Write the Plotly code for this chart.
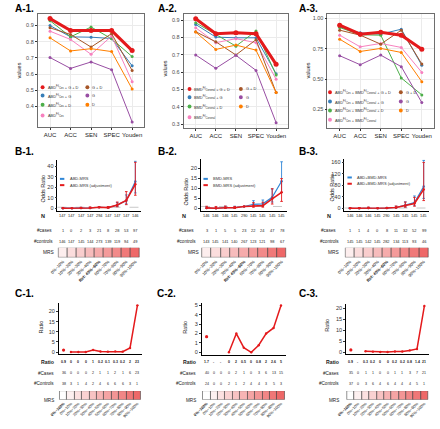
import plotly.graph_objects as go

W, H = 440, 429
FONT = "Liberation Sans"

# ---------------- data ----------------
METRICS = ["AUC", "ACC", "SEN", "SPEC", "Youden"]

A1_ABD_G_D = [0.943, 0.869, 0.869, 0.869, 0.745]
A1_ABD_G = [0.900, 0.830, 0.828, 0.820, 0.651]
A1_ABD_D = [0.930, 0.830, 0.891, 0.818, 0.708]
A1_ABD = [0.865, 0.814, 0.722, 0.835, 0.553]
A1_G_D = [0.886, 0.845, 0.767, 0.850, 0.622]
A1_G = [0.702, 0.635, 0.675, 0.627, 0.304]
A1_D = [0.824, 0.743, 0.757, 0.739, 0.508]

A2_BMD_G_D = [0.908, 0.821, 0.827, 0.821, 0.645]
A2_BMD_G = [0.875, 0.802, 0.798, 0.798, 0.591]
A2_BMD_D = [0.885, 0.818, 0.750, 0.837, 0.584]
A2_BMD = [0.856, 0.770, 0.793, 0.770, 0.559]
A2_G_D = [0.833, 0.775, 0.699, 0.787, 0.482]
A2_G = [0.699, 0.622, 0.697, 0.610, 0.308]
A2_D = [0.831, 0.731, 0.756, 0.727, 0.482]

A3_ABD_BMD_G_D = [0.943, 0.869, 0.885, 0.861, 0.746]
A3_ABD_BMD_G = [0.929, 0.880, 0.869, 0.910, 0.613]
A3_ABD_BMD_D = [0.924, 0.864, 0.861, 0.509, 0.370]
A3_ABD_BMD = [0.861, 0.765, 0.793, 0.760, 0.555]
A3_G_D = [0.902, 0.861, 0.787, 0.902, 0.624]
A3_G = [0.692, 0.618, 0.697, 0.602, 0.307]
A3_D = [0.828, 0.727, 0.752, 0.719, 0.479]

A_COLORS = ["#E41A1C", "#377EB8", "#4DAF4A", "#F781BF", "#A65628", "#984EA3", "#FF7F00"]

ABD = "ABD<sup>Fil</sup><sub>Ces</sub>"
BMD = "BMD<sup>Fil</sup><sub>Coronal</sub>"
A1_NAMES = [ABD + " + G + D", ABD + " + G", ABD + " + D", ABD, "G + D", "G", "D"]
A2_NAMES = [BMD + " + G + D", BMD + " + G", BMD + " + D", BMD, "G + D", "G", "D"]
A3_NAMES = [ABD + " + " + BMD + " + G + D", ABD + " + " + BMD + " + G",
            ABD + " + " + BMD + " + D", ABD + " + " + BMD, "G + D", "G", "D"]

B_GROUPS = ["0%~10%", "10%~20%", "20%~30%", "30%~40%", "Ref: 40%~60%",
            "60%~70%", "70%~80%", "80%~90%", "90%~100%"]
B_LEVELS = [1, 2, 3, 4, 5, 6, 7, 8, 9]

B1_N = [147, 147, 147, 147, 294, 147, 147, 147, 146]
B1_CASES = [1, 0, 2, 3, 21, 8, 28, 53, 97]
B1_CONTROLS = [146, 147, 145, 144, 273, 139, 119, 94, 49]
B1_OR = [0.09, 0, 0.18, 0.27, 1, 0.75, 3.06, 7.33, 25.7]
B1_OR_LO = [0.01, 0, 0.04, 0.08, 1, 0.33, 1.67, 4.2, 14.7]
B1_OR_HI = [0.7, 0, 0.8, 0.92, 1, 1.7, 5.6, 12.8, 45.0]
B1_ADJ = [0.1, 0, 0.2, 0.35, 1, 0.7, 3.1, 7.5, 23.0]
B1_ADJ_LO = [0.01, 0, 0.04, 0.09, 1, 0.3, 1.5, 3.5, 12.5]
B1_ADJ_HI = [0.8, 0, 0.9, 1.3, 1, 1.7, 6.0, 16.0, 44.0]

B2_N = [146, 146, 146, 145, 290, 145, 145, 145, 145]
B2_CASES = [3, 1, 5, 5, 23, 22, 24, 47, 78]
B2_CONTROLS = [143, 145, 141, 140, 267, 123, 121, 98, 67]
B2_OR = [0.24, 0.08, 0.41, 0.41, 1, 2.08, 2.30, 5.57, 13.5]
B2_OR_LO = [0.07, 0.01, 0.15, 0.16, 1, 1.12, 1.25, 3.2, 7.9]
B2_OR_HI = [0.8, 0.59, 1.1, 1.1, 1, 3.87, 4.2, 9.6, 23.1]
B2_ADJ = [0.3, 0.15, 0.4, 0.35, 1, 1.3, 1.4, 4.8, 8.0]
B2_ADJ_LO = [0.08, 0.02, 0.13, 0.12, 1, 0.6, 0.65, 2.2, 3.5]
B2_ADJ_HI = [1.1, 1.0, 1.2, 1.0, 1, 2.9, 3.1, 9.8, 14.8]

B3_N = [146, 146, 146, 145, 290, 145, 145, 145, 145]
B3_CASES = [1, 1, 4, 0, 8, 11, 32, 52, 99]
B3_CONTROLS = [145, 145, 142, 145, 282, 134, 113, 93, 46]
B3_OR = [0.24, 0.24, 0.99, 0, 1, 2.89, 9.98, 19.7, 75.9]
B3_OR_LO = [0.03, 0.03, 0.29, 0, 1, 1.14, 4.5, 9.0, 34.5]
B3_OR_HI = [1.95, 1.95, 3.4, 0, 1, 7.3, 22.3, 43.0, 167.0]
B3_ADJ = [0.3, 0.3, 1.1, 0, 1, 3.0, 9.5, 17.0, 66.0]
B3_ADJ_LO = [0.03, 0.03, 0.3, 0, 1, 1.1, 4.0, 7.5, 27.0]
B3_ADJ_HI = [2.5, 2.5, 4.0, 0, 1, 8.0, 22.0, 38.0, 160.0]

C_GROUPS = ["0%~100%", "0%~10%", "10%~20%", "20%~30%", "30%~40%", "40%~50%",
            "50%~60%", "60%~70%", "70%~80%", "80%~90%", "90%~100%"]
C_LEVELS = [0, 1, 2, 3, 4, 5, 6, 7, 8, 9, 10]

C1_RATIO_TXT = ["0.9", "0", "0", "0", "1", "0.2", "0.1", "0.3", "0.2", "2", "23"]
C1_RATIO = [0.95, 0, 0, 0, 1, 0.25, 0.17, 0.33, 0.17, 2, 23]
C1_CASES = [36, 0, 0, 0, 2, 1, 1, 2, 1, 6, 23]
C1_CONTROLS = [38, 3, 1, 4, 2, 4, 6, 6, 6, 3, 1]

C2_RATIO_TXT = ["1.7", "-", "-", "0", "2", "0.5", "0", "0.8", "2", "2.6", "5"]
C2_RATIO = [1.67, None, None, 0, 2, 0.5, 0, 0.75, 2, 2.6, 5]
C2_CASES = [40, 0, 0, 0, 2, 1, 0, 3, 6, 13, 15]
C2_CONTROLS = [24, 0, 0, 2, 1, 2, 4, 4, 3, 5, 3]

C3_RATIO_TXT = ["0.9", "-", "0.3", "0.2", "0", "0", "0.2", "0.2", "0.8", "1.4", "21"]
C3_RATIO = [0.95, None, 0.33, 0.17, 0, 0, 0.25, 0.25, 0.75, 1.4, 21]
C3_CASES = [35, 0, 1, 1, 0, 0, 1, 1, 3, 7, 21]
C3_CONTROLS = [37, 0, 3, 6, 4, 6, 4, 4, 4, 5, 1]

RED = "#E41A1C"
BLUE = "#2F86D6"
HEAT_SCALE = [[0, "#FFFFFF"], [1, "#EE6868"]]


# ---------------- helpers ----------------
def X(p):
    return p / W


def Y(p):
    return 1 - p / H


axes = {}
annotations = []
shapes = []
traces = []
n_axes = [0]


def new_axes(xpx, ypx, xrange, yrange, xopt=None, yopt=None):
    n_axes[0] += 1
    n = n_axes[0]
    sx = "" if n == 1 else str(n)
    xa = dict(domain=[X(xpx[0]), X(xpx[1])], range=xrange, anchor="y" + sx,
              showgrid=False, zeroline=False, showticklabels=False, ticks="",
              showline=False, fixedrange=True)
    ya = dict(domain=[Y(ypx[1]), Y(ypx[0])], range=yrange, anchor="x" + sx,
              showgrid=False, zeroline=False, showticklabels=False, ticks="",
              showline=False, fixedrange=True)
    if xopt:
        xa.update(xopt)
    if yopt:
        ya.update(yopt)
    axes["xaxis" + sx] = xa
    axes["yaxis" + sx] = ya
    return "x" + sx, "y" + sx


def text(x, y, s, size, xref="paper", xanchor="center", yanchor="middle",
         bold=False, color="#1A1A1A", angle=0):
    annotations.append(dict(
        x=X(x) if xref == "paper" else x, y=Y(y), xref=xref, yref="paper",
        text="<b>%s</b>" % s if bold else s, showarrow=False,
        font=dict(size=size, color=color, family=FONT),
        xanchor=xanchor, yanchor=yanchor, textangle=angle, borderpad=0))


def title(x, y, s):
    text(x, y, s, 10, xanchor="left", yanchor="top", bold=True, color="#000000")


# ---------------- A panels ----------------
def panel_a(ttl, ttl_x, xpx, ypx, yrange, ytv, ytt, series, names, leg, ylab):
    title(ttl_x, 1.5, ttl)
    xr, yr = new_axes(
        xpx, ypx, [-0.6, 4.6], yrange,
        dict(type="category", showline=True, mirror=True, linecolor="#6E6E6E",
             linewidth=0.7, showgrid=True, gridcolor="#EBEBEB", gridwidth=0.6,
             showticklabels=True, tickangle=0, ticks="outside", ticklen=2, tickwidth=0.6,
             tickcolor="#333333", tickfont=dict(size=6, color="#1A1A1A", family=FONT)),
        dict(showline=True, mirror=True, linecolor="#6E6E6E", linewidth=0.7,
             showgrid=True, gridcolor="#EBEBEB", gridwidth=0.6, tickvals=ytv,
             ticktext=ytt, showticklabels=True, ticks="outside", ticklen=2,
             tickwidth=0.6, tickcolor="#333333",
             tickfont=dict(size=5.5, color="#4D4D4D", family=FONT)))
    for i in [1, 2, 3, 4, 5, 6, 0]:
        main = i == 0
        traces.append(go.Scatter(
            x=METRICS, y=series[i], xaxis=xr, yaxis=yr, mode="lines+markers",
            line=dict(color=A_COLORS[i], width=3 if main else 1),
            marker=dict(color=A_COLORS[i], size=5 if main else 3),
            showlegend=False, hoverinfo="skip"))
    text(ylab[0], ylab[1], "values", 5.5, angle=-90, color="#1A1A1A")
    (lx, lys), (rx, rys) = leg
    for j, yy in enumerate(lys):
        shapes.append(dict(type="circle", xref="paper", yref="paper",
                           x0=X(lx - 2), x1=X(lx + 2), y0=Y(yy + 2), y1=Y(yy - 2),
                           fillcolor=A_COLORS[j], line=dict(width=0)))
        text(lx + 4, yy, names[j], 3.9, xanchor="left", color="#333333")
    for j, yy in enumerate(rys):
        k = 4 + j
        shapes.append(dict(type="circle", xref="paper", yref="paper",
                           x0=X(rx - 2), x1=X(rx + 2), y0=Y(yy + 2), y1=Y(yy - 2),
                           fillcolor=A_COLORS[k], line=dict(width=0)))
        text(rx + 4, yy, names[k], 3.9, xanchor="left", color="#333333")


panel_a("A-1.", 5, (29.3, 138.3), (13.3, 126.7), [0.272, 0.97],
        [0.4, 0.5, 0.6, 0.7, 0.8, 0.9], ["0.4", "0.5", "0.6", "0.7", "0.8", "0.9"],
        [A1_ABD_G_D, A1_ABD_G, A1_ABD_D, A1_ABD, A1_G_D, A1_G, A1_D], A1_NAMES,
        ((34.3, [86.7, 95, 104.3, 115]), (80, [86.7, 95, 104.3])), (10, 70))
panel_a("A-2.", 151, (178.3, 285), (13.3, 127.7), [0.277, 0.934],
        [0.3, 0.4, 0.5, 0.6, 0.7, 0.8, 0.9],
        ["0.3", "0.4", "0.5", "0.6", "0.7", "0.8", "0.9"],
        [A2_BMD_G_D, A2_BMD_G, A2_BMD_D, A2_BMD, A2_G_D, A2_G, A2_D], A2_NAMES,
        ((184.3, [88.3, 96.7, 106, 116.7]), (236.7, [88.3, 96.7, 106])), (159, 68))
panel_a("A-3.", 295, (325, 434), (13.3, 127.7), [0.097, 1.033],
        [0.25, 0.5, 0.75, 1.0], ["0.25", "0.50", "0.75", "1.00"],
        [A3_ABD_BMD_G_D, A3_ABD_BMD_G, A3_ABD_BMD_D, A3_ABD_BMD, A3_G_D, A3_G, A3_D],
        A3_NAMES,
        ((327.7, [91.7, 101, 110, 119.3]), (400, [91.7, 101, 110])), (305, 70))


# ---------------- B panels ----------------
def diffs(hi, v):
    return [h - a for h, a in zip(hi, v)]


def panel_b(ttl, ttl_x, xpx, ypx, yrange, ytv, orv, lo, hi, adj, alo, ahi,
            N, cases, controls, names, leg, ylab, rowlab):
    title(ttl_x, 145, ttl)
    xrng = [-0.6, len(B_GROUPS) - 0.4]
    xr, yr = new_axes(
        xpx, ypx, xrng, yrange,
        dict(type="category", showline=True, linecolor="#000000", linewidth=1.2),
        dict(showline=True, linecolor="#000000", linewidth=0.8, tickvals=ytv,
             showticklabels=True, ticks="outside", ticklen=2, tickwidth=0.6,
             tickcolor="#333333", tickfont=dict(size=5.5, color="#333333", family=FONT)))
    shapes.append(dict(type="line", xref=xr + " domain", yref=yr, x0=0, x1=1, y0=1, y1=1,
                       line=dict(color="#C8C8C8", width=1, dash="dash"), layer="below"))
    for v, l, h, col, wd in [(orv, lo, hi, BLUE, 1.2), (adj, alo, ahi, RED, 1.6)]:
        traces.append(go.Scatter(
            x=B_GROUPS, y=v, xaxis=xr, yaxis=yr, mode="lines+markers",
            line=dict(color=col, width=wd), marker=dict(color=col, size=2.5),
            error_y=dict(type="data", symmetric=False, array=diffs(h, v),
                         arrayminus=diffs(v, l), color=col, thickness=0.9, width=1.3),
            showlegend=False, hoverinfo="skip"))
    # legend
    lx, ly = leg
    for yy, col, nm in [(ly, BLUE, names[0]), (ly + 6.3, RED, names[1])]:
        shapes.append(dict(type="line", xref="paper", yref="paper", x0=X(lx), x1=X(lx + 4.5),
                           y0=Y(yy), y1=Y(yy), line=dict(color=col, width=2)))
        text(lx + 9, yy, nm, 4, xanchor="left", color="#333333")
    text(ylab[0], ylab[1], "Odds Ratio", 5.5, angle=-90)
    # rows
    (nx, cx, kx, mx) = rowlab
    text(nx, 216, "N", 5.5, bold=True)
    text(cx, 230.5, "#cases", 4.6)
    text(kx, 241.8, "#controls", 4.6)
    text(mx, 252.8, "MRS", 4.8)
    for i in range(len(B_GROUPS)):
        text(i, 216, str(N[i]), 3.9, xref=xr)
        text(i, 230.5, str(cases[i]), 3.9, xref=xr)
        text(i, 241.8, str(controls[i]), 3.9, xref=xr)
    # heat
    hx, hy = new_axes(
        xpx, (247.8, 257.8), xrng, [0, 1],
        dict(type="category", showticklabels=True, tickangle=-45,
             tickvals=B_GROUPS,
             ticktext=["<b>%s</b>" % g if g.startswith("Ref") else g for g in B_GROUPS],
             tickfont=dict(size=4.2, color="#1A1A1A", family=FONT)))
    traces.append(go.Bar(
        x=B_GROUPS, y=[1] * len(B_GROUPS), width=1, xaxis=hx, yaxis=hy,
        marker=dict(color=B_LEVELS, colorscale=HEAT_SCALE, cmin=0, cmax=9,
                    line=dict(color="#404040", width=0.6)),
        showlegend=False, hoverinfo="skip"))


panel_b("B-1.", 5, (49.5, 134.5), (160, 211), [-2.6, 46], [0, 10, 20, 30, 40],
        B1_OR, B1_OR_LO, B1_OR_HI, B1_ADJ, B1_ADJ_LO, B1_ADJ_HI,
        B1_N, B1_CASES, B1_CONTROLS, ["ABD-MRS", "ABD-MRS (adjustment)"],
        (52, 178.7), (35, 188), (35, 35.8, 35.5, 40.5))
panel_b("B-2.", 151.5, (196, 284), (158.5, 211), [-1.25, 24.6], [0, 5, 10, 15, 20],
        B2_OR, B2_OR_LO, B2_OR_HI, B2_ADJ, B2_ADJ_LO, B2_ADJ_HI,
        B2_N, B2_CASES, B2_CONTROLS, ["BMD-MRS", "BMD-MRS (adjustment)"],
        (198.5, 178.7), (181, 191), (179, 181, 181.7, 188))
panel_b("B-3.", 295, (342.5, 429), (159, 211), [-9.4, 171], [0, 40, 80, 120, 160],
        B3_OR, B3_OR_LO, B3_OR_HI, B3_ADJ, B3_ADJ_LO, B3_ADJ_HI,
        B3_N, B3_CASES, B3_CONTROLS, ["ABD+BMD-MRS", "ABD+BMD-MRS (adjustment)"],
        (345.5, 177.3), (330, 187), (326.5, 326.5, 327, 331))


# ---------------- C panels ----------------
def panel_c(ttl, ttl_x, xpx, ypx, yrange, ytv, ratio, ratio_txt, cases, controls,
            ylab, lab_r):
    title(ttl_x, 287, ttl)
    xrng = [-0.65, len(C_GROUPS) - 0.35]
    xr, yr = new_axes(
        xpx, ypx, xrng, yrange,
        dict(type="category", showline=True, linecolor="#000000", linewidth=1.2),
        dict(showline=True, linecolor="#000000", linewidth=0.8, tickvals=ytv,
             showticklabels=True, ticks="outside", ticklen=2, tickwidth=0.6,
             tickcolor="#333333", tickfont=dict(size=5.5, color="#333333", family=FONT)))
    traces.append(go.Scatter(
        x=C_GROUPS[:1], y=ratio[:1], xaxis=xr, yaxis=yr, mode="markers",
        marker=dict(color=RED, size=3.2), showlegend=False, hoverinfo="skip"))
    traces.append(go.Scatter(
        x=C_GROUPS[1:], y=ratio[1:], xaxis=xr, yaxis=yr, mode="lines+markers",
        line=dict(color=RED, width=1.5), marker=dict(color=RED, size=2.4),
        showlegend=False, hoverinfo="skip"))
    text(ylab[0], ylab[1], "Ratio", 5.5, angle=-90)
    text(lab_r, 362.7, "Ratio", 5.2, xanchor="right", bold=True)
    text(lab_r, 374, "#Cases", 4.6, xanchor="right")
    text(lab_r, 384.7, "#Controls", 4.6, xanchor="right")
    text(lab_r, 401, "MRS", 4.6, xanchor="right")
    for i in range(len(C_GROUPS)):
        text(i, 362.7, ratio_txt[i], 3.5, xref=xr, bold=True)
        text(i, 374, str(cases[i]), 3.6, xref=xr)
        text(i, 384.7, str(controls[i]), 3.6, xref=xr)
    hx, hy = new_axes(
        xpx, (391.8, 400.5), xrng, [0, 1],
        dict(type="category", showticklabels=True, tickangle=-45, tickvals=C_GROUPS,
             ticktext=["<b>%s</b>" % g if g == "0%~100%" else g for g in C_GROUPS],
             tickfont=dict(size=3.9, color="#1A1A1A", family=FONT)))
    traces.append(go.Bar(
        x=C_GROUPS, y=[1] * len(C_GROUPS), width=1, xaxis=hx, yaxis=hy,
        marker=dict(color=C_LEVELS, colorscale=HEAT_SCALE, cmin=0, cmax=10,
                    line=dict(color="#404040", width=0.6)),
        showlegend=False, hoverinfo="skip"))


panel_c("C-1.", 5, (50.8, 136), (303.3, 355), [-1.15, 24.2], [0, 5, 10, 15, 20],
        C1_RATIO, C1_RATIO_TXT, C1_CASES, C1_CONTROLS, (32.7, 328), 46.5)
panel_c("C-2.", 150, (196.8, 282.6), (303.5, 355.5), [-0.27, 5.25], [0, 1, 2, 3, 4, 5],
        C2_RATIO, C2_RATIO_TXT, C2_CASES, C2_CONTROLS, (180, 328), 191.7)
panel_c("C-3.", 295, (344.1, 428.9), (304.3, 355), [-1.05, 22.0], [0, 5, 10, 15, 20],
        C3_RATIO, C3_RATIO_TXT, C3_CASES, C3_CONTROLS, (325, 326), 338.3)

layout = dict(width=W, height=H, margin=dict(l=0, r=0, t=0, b=0),
              paper_bgcolor="white", plot_bgcolor="white", showlegend=False,
              bargap=0, annotations=annotations, shapes=shapes,
              font=dict(family=FONT))
layout.update(axes)

fig = go.Figure(data=traces, layout=layout)
fig.write_html("out.html", config={"displayModeBar": False},
               post_script="document.body.style.margin='0';")
